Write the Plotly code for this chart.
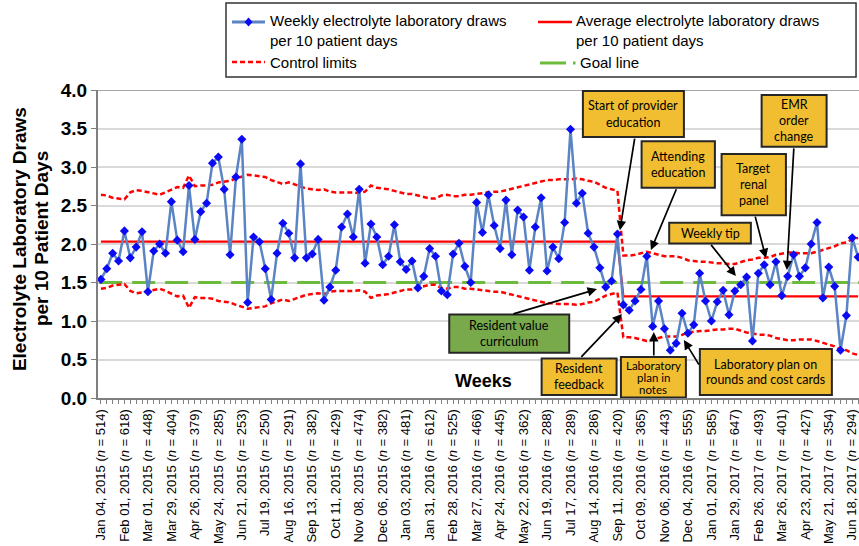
import plotly.graph_objects as go

# ---------------- data ----------------
tick_dates = ["Jan 04, 2015", "Feb 01, 2015", "Mar 01, 2015", "Mar 29, 2015", "Apr 26, 2015",
              "May 24, 2015", "Jun 21, 2015", "Jul 19, 2015", "Aug 16, 2015", "Sep 13, 2015",
              "Oct 11, 2015", "Nov 08, 2015", "Dec 06, 2015", "Jan 03, 2016", "Jan 31, 2016",
              "Feb 28, 2016", "Mar 27, 2016", "Apr 24, 2016", "May 22, 2016", "Jun 19, 2016",
              "Jul 17, 2016", "Aug 14, 2016", "Sep 11, 2016", "Oct 09, 2016", "Nov 06, 2016",
              "Dec 04, 2016", "Jan 01, 2017", "Jan 29, 2017", "Feb 26, 2017", "Mar 26, 2017",
              "Apr 23, 2017", "May 21, 2017", "Jun 18, 2017"]
tick_n = [514, 618, 448, 404, 379, 285, 253, 250, 291, 382, 429, 474, 382, 481, 612, 525, 466,
          445, 362, 288, 289, 286, 420, 365, 443, 555, 585, 647, 493, 401, 427, 354, 294]

weekly_draws = [
    1.54, 1.68, 1.88, 1.78, 2.17, 1.82, 1.96, 2.16, 1.38, 1.91,
    2.00, 1.88, 2.55, 2.05, 1.90, 2.76, 2.06, 2.42, 2.53, 3.05,
    3.13, 2.71, 1.86, 2.87, 3.36, 1.24, 2.09, 2.03, 1.68, 1.28,
    1.88, 2.27, 2.14, 1.82, 3.04, 1.82, 1.87, 2.06, 1.27, 1.44,
    1.66, 2.22, 2.39, 2.09, 2.71, 1.75, 2.26, 2.09, 1.73, 1.84,
    2.25, 1.77, 1.67, 1.78, 1.43, 1.58, 1.94, 1.84, 1.39, 1.34,
    1.87, 2.01, 1.71, 1.50, 2.54, 2.15, 2.64, 2.24, 1.94, 2.57,
    1.86, 2.44, 2.35, 1.66, 2.22, 2.60, 1.65, 1.96, 1.81, 2.28,
    3.49, 2.53, 2.66, 2.14, 1.96, 1.69, 1.44, 1.52, 2.13, 1.21,
    1.14, 1.26, 1.41, 1.84, 0.93, 1.26, 0.90, 0.62, 0.71, 1.10,
    0.84, 0.95, 1.62, 1.26, 1.00, 1.25, 1.40, 1.08, 1.39, 1.47,
    1.57, 0.74, 1.62, 1.73, 1.47, 1.77, 1.33, 1.58, 1.86, 1.58,
    1.69, 2.00, 2.28, 1.30, 1.70, 1.45, 0.62, 1.07, 2.08, 1.83]

ucl = [
    2.64, 2.63, 2.60, 2.59, 2.58, 2.67, 2.70, 2.69, 2.67, 2.65,
    2.64, 2.67, 2.70, 2.74, 2.73, 2.89, 2.75, 2.76, 2.76, 2.77,
    2.80, 2.81, 2.82, 2.85, 2.88, 2.90, 2.89, 2.88, 2.87, 2.83,
    2.81, 2.78, 2.80, 2.77, 2.74, 2.72, 2.71, 2.70, 2.71, 2.68,
    2.67, 2.67, 2.67, 2.67, 2.66, 2.68, 2.76, 2.73, 2.72, 2.71,
    2.69, 2.67, 2.65, 2.65, 2.63, 2.62, 2.59, 2.59, 2.63, 2.64,
    2.62, 2.62, 2.64, 2.64, 2.65, 2.66, 2.67, 2.68, 2.68, 2.70,
    2.71, 2.73, 2.75, 2.78, 2.80, 2.82, 2.83, 2.83, 2.84, 2.84,
    2.84, 2.85, 2.84, 2.82, 2.81, 2.77, 2.73, 2.71, 2.69, 1.85,
    1.85, 1.86, 1.88, 1.90, 1.88, 1.86, 1.84, 1.84, 1.84, 1.82,
    1.79, 1.78, 1.77, 1.77, 1.76, 1.75, 1.75, 1.74, 1.74, 1.77,
    1.79, 1.80, 1.82, 1.82, 1.83, 1.86, 1.88, 1.89, 1.89, 1.88,
    1.88, 1.88, 1.90, 1.92, 1.94, 1.97, 2.01, 2.02, 2.06, 2.08]

lcl = [
    1.42, 1.43, 1.46, 1.47, 1.48, 1.39, 1.36, 1.37, 1.39, 1.41,
    1.42, 1.39, 1.36, 1.32, 1.33, 1.17, 1.31, 1.30, 1.30, 1.29,
    1.26, 1.25, 1.24, 1.21, 1.18, 1.16, 1.17, 1.18, 1.19, 1.23,
    1.25, 1.28, 1.26, 1.29, 1.32, 1.34, 1.35, 1.36, 1.35, 1.38,
    1.39, 1.39, 1.39, 1.39, 1.40, 1.38, 1.30, 1.33, 1.34, 1.35,
    1.37, 1.39, 1.41, 1.41, 1.43, 1.44, 1.47, 1.47, 1.43, 1.42,
    1.44, 1.44, 1.42, 1.42, 1.41, 1.40, 1.39, 1.38, 1.38, 1.36,
    1.35, 1.33, 1.31, 1.28, 1.26, 1.24, 1.23, 1.23, 1.22, 1.22,
    1.22, 1.21, 1.22, 1.24, 1.25, 1.29, 1.33, 1.35, 1.37, 0.79,
    0.79, 0.78, 0.76, 0.74, 0.76, 0.78, 0.80, 0.80, 0.80, 0.82,
    0.85, 0.86, 0.87, 0.87, 0.88, 0.89, 0.89, 0.90, 0.90, 0.87,
    0.85, 0.84, 0.82, 0.82, 0.81, 0.78, 0.76, 0.75, 0.75, 0.76,
    0.76, 0.76, 0.74, 0.72, 0.70, 0.67, 0.63, 0.62, 0.58, 0.56]

phase_means = [2.03, 1.32]
phase_start_week = [0, 89]
goal_value = 1.5

# ---------------- derived ----------------
weeks = list(range(len(weekly_draws)))
mean_line = [phase_means[0] if w < phase_start_week[1] else phase_means[1] for w in weeks]
tick_vals = [4 * i for i in range(len(tick_dates))]
tick_text = [f"{d} (<i>n</i> = {n})" for d, n in zip(tick_dates, tick_n)]

BASE_FONT = "Liberation Sans, Arial, sans-serif"
BOX_FONT = "Lato, 'Open Sans', sans-serif"
BLUE_LINE = "#5B84C4"
BLUE_MARK = "#0A0AF5"
RED = "#FF0000"
GREEN = "#6CBB3C"
YELLOW = "#F1BE31"
GREEN_BOX = "#78A94B"
PX_PER_Y = 77.0  # plot height 308 px over 4 units

fig = go.Figure()

fig.add_trace(go.Scatter(x=[weeks[0] - 0.3, weeks[-1] + 1], y=[goal_value, goal_value], mode="lines",
                         line=dict(color=GREEN, width=3, dash="23px,10px"), hoverinfo="skip"))
fig.add_trace(go.Scatter(x=weeks, y=ucl, mode="lines",
                         line=dict(color=RED, width=2.5, dash="5px,3px"), hoverinfo="skip"))
fig.add_trace(go.Scatter(x=weeks, y=lcl, mode="lines",
                         line=dict(color=RED, width=2.5, dash="5px,3px"), hoverinfo="skip"))
fig.add_trace(go.Scatter(x=weeks, y=mean_line, mode="lines",
                         line=dict(color=RED, width=2.3), hoverinfo="skip"))
fig.add_trace(go.Scatter(x=weeks, y=weekly_draws, mode="lines+markers",
                         line=dict(color=BLUE_LINE, width=2.5),
                         marker=dict(symbol="diamond", size=7, color=BLUE_MARK,
                                     line=dict(width=0))))

# ---------------- axes ----------------
fig.update_xaxes(range=[-0.5, 129.15], tickmode="array", tickvals=tick_vals, ticktext=tick_text,
                 tickangle=-90, tickfont=dict(family=BASE_FONT, size=13, color="black"),
                 ticklabeloverflow="allow",
                 showgrid=False, zeroline=False, showline=True, linecolor="#7F7F7F", linewidth=2,
                 ticks="outside", ticklen=4, tickcolor="#7F7F7F", tickwidth=1,
                 minor=dict(dtick=1, tick0=0, ticks="outside", ticklen=4, tickcolor="#7F7F7F",
                            showgrid=False),
                 automargin=False)
fig.update_yaxes(range=[0, 4], tick0=0, dtick=0.5, tickformat=".1f",
                 tickfont=dict(family=BASE_FONT, size=19, color="black", weight="bold"),
                 showgrid=True, gridcolor="#D9D9D9", gridwidth=1.5, zeroline=False,
                 showline=True, linecolor="#7F7F7F", linewidth=2,
                 ticks="outside", ticklen=5, tickcolor="#7F7F7F", automargin=False)

fig.update_layout(width=859, height=546, margin=dict(l=98, r=0, t=90, b=148),
                  paper_bgcolor="white", plot_bgcolor="white", showlegend=False,
                  font=dict(family=BASE_FONT, color="black"))

# top frame line
fig.add_shape(type="line", xref="paper", yref="y", x0=0, x1=1, y0=4, y1=4,
              line=dict(color="#A6A6A6", width=2), layer="above")

# y-axis title (two lines)
fig.add_annotation(xref="paper", yref="paper", x=-0.1038, y=0.516, text="<b>Electrolyte Laboratory Draws</b>",
                   textangle=-90, showarrow=False, xanchor="center", yanchor="middle",
                   font=dict(family=BASE_FONT, size=19, color="black"))
fig.add_annotation(xref="paper", yref="paper", x=-0.0749, y=0.516, text="<b>per 10 Patient Days</b>",
                   textangle=-90, showarrow=False, xanchor="center", yanchor="middle",
                   font=dict(family=BASE_FONT, size=19, color="black"))

# "Weeks" label
fig.add_annotation(x=65.25, y=0.22, text="<b>Weeks</b>", showarrow=False,
                   font=dict(family=BASE_FONT, size=18, color="black"))

# ---------------- intervention boxes ----------------
# (lines, x0, x1, y0, y1, fill, font size, line spacing px)
boxes = [
    (["Start of provider", "education"], 82.11, 99.32, 3.388, 3.986, YELLOW, 12.5, 17),
    (["Attending", "education"], 92.11, 104.60, 2.730, 3.336, YELLOW, 12.5, 16),
    (["Target", "renal", "panel"], 105.74, 116.70, 2.375, 3.168, YELLOW, 12.5, 16),
    (["EMR", "order", "change"], 112.56, 123.63, 3.262, 3.934, YELLOW, 12.5, 16),
    (["Weekly tip"], 96.81, 110.73, 2.008, 2.275, YELLOW, 12.5, 16),
    (["Laboratory", "plan in", "notes"], 88.59, 99.66, 0.008, 0.531, YELLOW, 11.5, 12),
    (["Laboratory plan on", "rounds and cost cards"], 102.04, 124.53, 0.038, 0.635, YELLOW, 12.5, 15),
    (["Resident", "feedback"], 75.08, 87.85, 0.038, 0.514, YELLOW, 12.5, 16),
    (["Resident value", "curriculum"], 59.34, 79.78, 0.587, 1.086, GREEN_BOX, 12.5, 16),
]
for lines, x0, x1, y0, y1, fill, fsize, spacing in boxes:
    fig.add_shape(type="rect", xref="x", yref="y", x0=x0, x1=x1, y0=y0, y1=y1,
                  fillcolor=fill, line=dict(color="#262626", width=2), layer="above")
    cy = (y0 + y1) / 2
    k = len(lines)
    for i, line in enumerate(lines):
        off_px = ((k - 1) / 2 - i) * spacing
        fig.add_annotation(x=(x0 + x1) / 2, y=cy + off_px / PX_PER_Y, text=line, showarrow=False,
                           xanchor="center", yanchor="middle", align="center",
                           font=dict(family=BOX_FONT, size=fsize, color="black"))

# arrows: (tip x, tip y, tail x, tail y)
arrows = [
    (88.42, 2.180, 90.97, 3.388),
    (93.70, 1.921, 98.13, 2.730),
    (113.29, 1.817, 111.41, 2.375),
    (116.87, 1.661, 118.06, 3.262),
    (108.18, 1.583, 103.75, 2.008),
    (94.19, 0.856, 94.19, 0.531),
    (99.32, 0.752, 102.04, 0.414),
    (88.76, 1.090, 81.60, 0.514),
    (84.50, 1.414, 70.02, 1.086),
]
for tx, ty, sx, sy in arrows:
    fig.add_annotation(x=tx, y=ty, ax=sx, ay=sy, xref="x", yref="y", axref="x", ayref="y",
                       text="", showarrow=True, arrowhead=2, arrowsize=1.1, arrowwidth=1.7,
                       arrowcolor="black")

# ---------------- custom legend ----------------
fig.add_shape(type="rect", xref="paper", yref="paper", x0=0.1682, x1=0.9961, y0=1.0422, y1=1.2825,
              fillcolor="white", line=dict(color="#333333", width=1.5))
fig.add_shape(type="line", xref="paper", yref="paper", x0=0.1761, x1=0.2194, y0=1.2208, y1=1.2208,
              line=dict(color=BLUE_LINE, width=3))
fig.add_shape(type="path", xref="paper", yref="paper", xsizemode="pixel", ysizemode="pixel",
              xanchor=0.1978, yanchor=1.2208, path="M 0 4.5 L 4 0 L 0 -4.5 L -4 0 Z",
              fillcolor=BLUE_MARK, line=dict(width=0))
fig.add_shape(type="line", xref="paper", yref="paper", x0=0.5782, x1=0.6229, y0=1.2208, y1=1.2208,
              line=dict(color=RED, width=2.5))
fig.add_shape(type="line", xref="paper", yref="paper", x0=0.1761, x1=0.2194, y0=1.0909, y1=1.0909,
              line=dict(color=RED, width=2.5, dash="5px,3px"))
fig.add_shape(type="line", xref="paper", yref="paper", x0=0.5808, x1=0.6150, y0=1.0877, y1=1.0877,
              line=dict(color=GREEN, width=3))
fig.add_shape(type="line", xref="paper", yref="paper", x0=0.6242, x1=0.6275, y0=1.0877, y1=1.0877,
              line=dict(color=GREEN, width=3))

legend_texts = [
    (0.2234, 1.1916, "Weekly electrolyte laboratory draws<br>per 10 patient days"),
    (0.6255, 1.1916, "Average electrolyte laboratory draws<br>per 10 patient days"),
    (0.2234, 1.0909, "Control limits"),
    (0.6310, 1.0877, "Goal line"),
]
for lx, ly, t in legend_texts:
    fig.add_annotation(xref="paper", yref="paper", x=lx, y=ly, text=t, showarrow=False,
                       xanchor="left", yanchor="middle", align="left",
                       font=dict(family=BASE_FONT, size=15, color="black"))

fig.write_html("out.html", config={"displayModeBar": False},
               post_script="document.body.style.margin='0';document.body.style.overflow='hidden';")
